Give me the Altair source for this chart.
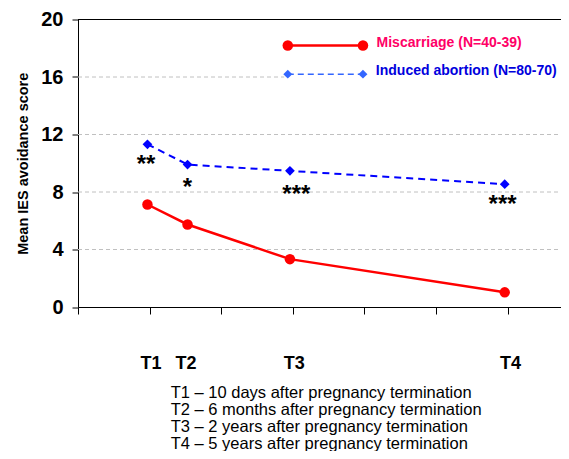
import altair as alt
import pandas as pd

FONT = "Liberation Sans"
XMAX = 6.746

# data
times = ["T1", "T2", "T3", "T4"]
time_x = [0.97, 1.53, 2.96, 5.96]
miscarriage = [7.13, 5.74, 3.33, 1.02]
induced = [11.32, 9.91, 9.47, 8.54]

stars = ["**", "*", "***", "***"]
star_x = [0.95, 1.53, 3.05, 5.93]
star_y = [10.0, 8.4, 7.9, 7.25]

label_x = [1.02, 1.51, 3.02, 6.04]
label_y = -3.95

caption = [
    "T1 \u2013 10 days after pregnancy termination",
    "T2 \u2013 6 months after pregnancy termination",
    "T3 \u2013 2 years after pregnancy termination",
    "T4 \u2013 5 years after pregnancy termination",
]
caption_x = 1.295
caption_y = [-5.98, -7.17, -8.35, -9.50]

grid_y = [4, 8, 12, 16]
grid_x2 = [XMAX, XMAX, XMAX, 2.88]

legend_names = ["Miscarriage (N=40-39)", "Induced abortion (N=80-70)"]
legend_x = [2.93, 3.98]
legend_y = [18.19, 16.2]
legend_text_x = [4.17, 4.16]
legend_text_y = [18.35, 16.39]

xs = alt.Scale(domain=[0, XMAX], nice=False, zero=False)
ys = alt.Scale(domain=[0, 20], nice=False, zero=False)

X_AX = alt.Axis(
    values=[0, 1, 2, 3, 4, 5, 6], labels=False, title=None, grid=False,
    tickSize=7, tickColor="#000000", domainColor="#000000", tickWidth=1,
)
Y_AX = alt.Axis(
    values=[0, 4, 8, 12, 16, 20], title="Mean IES avoidance score", grid=False,
    labelFont=FONT, labelFontSize=20, labelFontWeight="bold", labelColor="#000000",
    labelPadding=9, tickSize=6, tickColor="#000000", domainColor="#000000",
    titleFont=FONT, titleFontSize=14.5, titleFontWeight="bold", titleColor="#000000",
    titlePadding=10,
)


def X(f):
    return alt.X(f, scale=xs, axis=X_AX)


def Y(f):
    return alt.Y(f, scale=ys, axis=Y_AX)


main = pd.DataFrame({"x": time_x, "mis": miscarriage, "ind": induced})

grid = alt.Chart(pd.DataFrame({"y": grid_y, "x0": [0] * 4, "x2": grid_x2})).mark_rule(
    color="#c0c0c0", strokeDash=[4, 3], strokeWidth=1
).encode(x=X("x0:Q"), x2="x2:Q", y=Y("y:Q"))

top = alt.Chart(pd.DataFrame({"y": [20], "x0": [0], "x2": [XMAX]})).mark_rule(
    color="#000000", strokeWidth=1
).encode(x=X("x0:Q"), x2="x2:Q", y=Y("y:Q"))

red_line = alt.Chart(main).mark_line(color="#ff0000", strokeWidth=2.5).encode(
    x=X("x:Q"), y=Y("mis:Q"))
red_pts = alt.Chart(main).mark_circle(color="#ff0000", size=110, opacity=1).encode(
    x=X("x:Q"), y=Y("mis:Q"))
blue_line = alt.Chart(main).mark_line(color="#0000ff", strokeWidth=2, strokeDash=[7, 5]).encode(
    x=X("x:Q"), y=Y("ind:Q"))
blue_pts = alt.Chart(main).mark_point(shape="diamond", filled=True, color="#0000ff", size=95, opacity=1).encode(
    x=X("x:Q"), y=Y("ind:Q"))

star_df = pd.DataFrame({"x": star_x, "y": star_y, "t": stars})
star_txt = alt.Chart(star_df).mark_text(
    font=FONT, fontSize=24, fontWeight="bold", color="#000000", baseline="middle", align="center", dy=2
).encode(x=X("x:Q"), y=Y("y:Q"), text="t:N")

lab_df = pd.DataFrame({"x": label_x, "y": [label_y] * 4, "t": times})
lab_txt = alt.Chart(lab_df).mark_text(
    font=FONT, fontSize=18, fontWeight="bold", color="#000000", baseline="middle", align="center"
).encode(x=X("x:Q"), y=Y("y:Q"), text="t:N")

cap_df = pd.DataFrame({"x": [caption_x] * 4, "y": caption_y, "t": caption})
cap_txt = alt.Chart(cap_df).mark_text(
    font=FONT, fontSize=16.5, color="#000000", baseline="middle", align="left"
).encode(x=X("x:Q"), y=Y("y:Q"), text="t:N")

leg_red = pd.DataFrame({"x": legend_x, "y": [legend_y[0]] * 2})
leg_blue = pd.DataFrame({"x": legend_x, "y": [legend_y[1]] * 2})
leg_red_line = alt.Chart(leg_red).mark_line(color="#ff0000", strokeWidth=2.5).encode(
    x=X("x:Q"), y=Y("y:Q"))
leg_red_pts = alt.Chart(leg_red).mark_circle(color="#ff0000", size=110, opacity=1).encode(
    x=X("x:Q"), y=Y("y:Q"))
leg_blue_line = alt.Chart(leg_blue).mark_line(color="#3366ff", strokeWidth=1.5, strokeDash=[6, 4]).encode(
    x=X("x:Q"), y=Y("y:Q"))
leg_blue_pts = alt.Chart(leg_blue).mark_point(shape="diamond", filled=True, color="#3366ff", size=80, opacity=1).encode(
    x=X("x:Q"), y=Y("y:Q"))
leg_df = pd.DataFrame({"x": legend_text_x, "y": legend_text_y, "t": legend_names, "c": ["#ff0066", "#0000dd"]})
leg_txt = alt.Chart(leg_df).mark_text(
    font=FONT, fontSize=14, fontWeight="bold", baseline="middle", align="left"
).encode(x=X("x:Q"), y=Y("y:Q"), text="t:N", color=alt.Color("c:N", scale=None))

chart = alt.layer(
    grid, top, red_line, blue_line, red_pts, blue_pts, star_txt, lab_txt, cap_txt,
    leg_red_line, leg_red_pts, leg_blue_line, leg_blue_pts, leg_txt,
).properties(
    width=483, height=287.5,
    padding={"left": 70, "top": 11.5, "right": 0, "bottom": 144},
    autosize=alt.AutoSizeParams(type="none"),
    background="#ffffff",
).configure_view(stroke=None)

chart.save("out.html", embed_options={"renderer": "svg", "actions": False})
